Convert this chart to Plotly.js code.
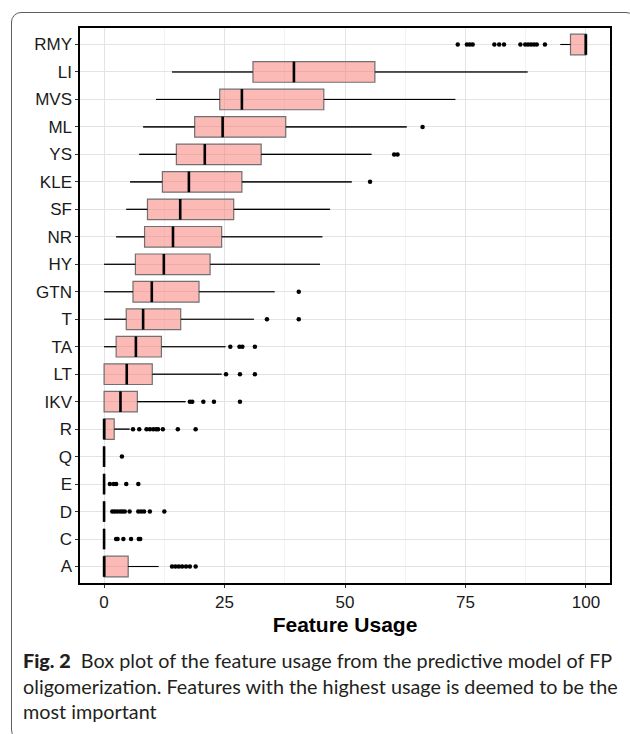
<!DOCTYPE html>
<html>
<head>
<meta charset="utf-8">
<script src="https://cdn.plot.ly/plotly-3.0.1.min.js"></script>
<style>
  html, body { margin: 0; padding: 0; background: #ffffff; }
  #wrap { position: relative; width: 630px; height: 734px; overflow: hidden; background: #fff; }
  #chart { position: absolute; left: 0; top: 0; width: 630px; height: 734px; }
  #frame { position: absolute; left: 11px; top: 12px; width: 625px; height: 728px; box-sizing: border-box;
           border: 1px solid #5e5e5e; border-radius: 10px; pointer-events: none; }
  #caption { position: absolute; left: 23px; top: 648px; font-family: "Lato", "Noto Sans", sans-serif;
             font-size: 19.8px; line-height: 25.5px; color: #231f20; white-space: nowrap; }
  #caption b { font-weight: 900; }
</style>
</head>
<body>
<div id="wrap">
  <div id="chart"></div>
  <div id="frame"></div>
  <div id="caption"><b>Fig. 2</b>&nbsp; Box plot of the feature usage from the predictive model of FP<br>oligomerization. Features with the highest usage is deemed to be the<br>most important</div>
</div>
<script>
// Categories, top to bottom as shown
const categories = ["RMY","LI","MVS","ML","YS","KLE","SF","NR","HY","GTN","T","TA","LT","IKV","R","Q","E","D","C","A"];
const lowerWhisker = [94.7, 14.1, 10.8, 8.1, 7.3, 5.4, 4.6, 2.5, 0, 0, 0, 0, 0, 0, 0, 0, 0, 0, 0, 0];
const q1Values     = [96.8, 30.9, 24.0, 18.8, 15.0, 12.1, 9.0, 8.4, 6.5, 6.0, 4.6, 2.5, 0, 0, 0, 0, 0, 0, 0, 0];
const medianValues = [100, 39.4, 28.6, 24.6, 20.9, 17.6, 15.8, 14.3, 12.4, 9.9, 8.1, 6.6, 4.7, 3.4, 0, 0, 0, 0, 0, 0];
const q3Values     = [100, 56.2, 45.6, 37.7, 32.6, 28.6, 26.9, 24.4, 22.0, 19.7, 15.9, 11.9, 10.0, 6.9, 2.1, 0, 0, 0, 0, 5.0];
const upperWhisker = [100, 87.9, 72.9, 62.8, 55.5, 51.4, 46.9, 45.3, 44.8, 35.4, 31.1, 25.2, 24.4, 16.9, 5.3, 0, 0, 0, 0, 11.3];
const outliers = [
  [73.4, 75.3, 75.9, 76.5, 81.0, 82.0, 83.0, 86.4, 87.4, 88.0, 88.6, 89.2, 89.8, 91.5], // RMY
  [], [], [66.1], [60.2, 60.9], [55.2], [], [], [],
  [40.4],                          // GTN
  [33.8, 40.4],                    // T
  [26.2, 28.1, 28.7, 31.3],        // TA
  [25.3, 28.2, 31.3],              // LT
  [17.8, 18.3, 20.6, 22.8, 28.2],  // IKV
  [6.0, 7.3, 8.8, 9.5, 10.2, 10.8, 11.2, 12.2, 15.3, 19.0], // R
  [3.7],                           // Q
  [1.2, 2.0, 2.5, 4.6, 7.1],       // E
  [1.7, 2.2, 2.7, 3.3, 3.8, 4.3, 5.3, 7.1, 7.7, 8.3, 9.5, 12.5], // D
  [2.5, 2.8, 4.0, 5.6, 7.2, 7.5],  // C
  [14.1, 14.8, 15.5, 16.2, 17.0, 17.8, 19.0] // A
];
const xTicks = [0, 25, 50, 75, 100];

const n = categories.length;
const pos = categories.map((c, i) => n - i);
const halfW = 0.375;

const boxTrace = {
  type: 'box', orientation: 'h',
  y: pos, q1: q1Values, median: medianValues, q3: q3Values,
  lowerfence: lowerWhisker, upperfence: upperWhisker,
  width: 0.75, whiskerwidth: 0, boxpoints: false,
  fillcolor: 'rgba(248,118,109,0.5)',
  line: { color: '#707070', width: 1.2 },
  hoverinfo: 'skip', showlegend: false
};

const wx = [], wy = [];
pos.forEach((p, i) => {
  if (q1Values[i] > lowerWhisker[i]) { wx.push(lowerWhisker[i], q1Values[i], null); wy.push(p, p, null); }
  if (upperWhisker[i] > q3Values[i]) { wx.push(q3Values[i], upperWhisker[i], null); wy.push(p, p, null); }
});
const whiskerTrace = { type: 'scatter', mode: 'lines', x: wx, y: wy,
  line: { color: '#000', width: 1.1 }, hoverinfo: 'skip', showlegend: false, cliponaxis: false };

const mx = [], my = [];
pos.forEach((p, i) => { mx.push(medianValues[i], medianValues[i], null); my.push(p - halfW, p + halfW, null); });
const medianTrace = { type: 'scatter', mode: 'lines', x: mx, y: my,
  line: { color: '#000', width: 2.6 }, hoverinfo: 'skip', showlegend: false, cliponaxis: false };

const ox = [], oy = [];
outliers.forEach((arr, i) => arr.forEach(v => { ox.push(v); oy.push(pos[i]); }));
const outlierTrace = { type: 'scatter', mode: 'markers', x: ox, y: oy,
  marker: { color: '#000', size: 4.5 }, hoverinfo: 'skip', showlegend: false, cliponaxis: false };

const layout = {
  width: 630, height: 734,
  margin: { l: 80, r: 20, t: 28, b: 151 },
  paper_bgcolor: 'rgba(0,0,0,0)', plot_bgcolor: '#ffffff',
  font: { family: 'Liberation Sans, Arial, sans-serif', color: '#1a1a1a' },
  xaxis: {
    range: [-5, 105], tickvals: xTicks, ticktext: xTicks.map(String),
    showgrid: true, gridcolor: '#e3e3e3', gridwidth: 1,
    minor: { tickvals: [12.5, 37.5, 62.5, 87.5], showgrid: true, gridcolor: '#f3f3f3', gridwidth: 1, ticks: '' },
    zeroline: false, showline: true, linecolor: '#000', linewidth: 1.6, mirror: true,
    ticks: 'outside', ticklen: 3, tickwidth: 1, tickcolor: '#333',
    tickfont: { size: 17, color: '#1a1a1a' },
    title: { text: 'Feature Usage', font: { size: 21, color: '#000', family: 'Liberation Sans, Arial, sans-serif', weight: 'bold' }, standoff: 6 }
  },
  yaxis: {
    range: [0.4, n + 0.6], tickvals: pos, ticktext: categories,
    showgrid: true, gridcolor: '#e3e3e3', gridwidth: 1,
    zeroline: false, showline: true, linecolor: '#000', linewidth: 1.6, mirror: true,
    ticks: 'outside', ticklen: 3, tickwidth: 1, tickcolor: '#333',
    tickfont: { size: 17, color: '#1a1a1a' }
  }
};

Plotly.newPlot('chart', [boxTrace, whiskerTrace, medianTrace, outlierTrace], layout, { displayModeBar: false, staticPlot: true });
</script>
</body>
</html>
